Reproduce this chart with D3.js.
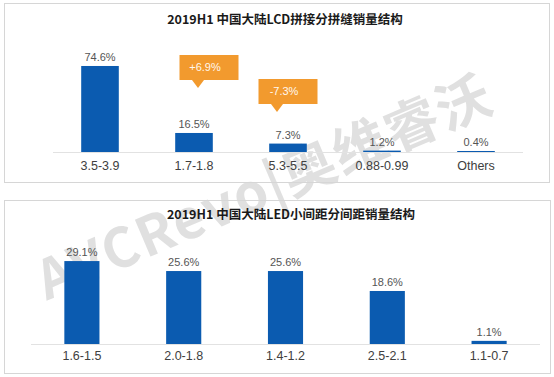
<!DOCTYPE html>
<html><head><meta charset="utf-8">
<script src="https://cdn.jsdelivr.net/npm/d3@7/dist/d3.min.js"></script>
<style>
html,body{margin:0;padding:0;background:#fff;}
svg{display:block;font-family:"Liberation Sans",Arial,"Noto Sans CJK SC",sans-serif;}
</style></head>
<body>
<svg id="chart" width="554" height="377"></svg>
<script>
const lcdTitle = "2019H1 中国大陆LCD拼接分拼缝销量结构";
const lcdCategories = ["3.5-3.9", "1.7-1.8", "5.3-5.5", "0.88-0.99", "Others"];
const lcdValues = [74.6, 16.5, 7.3, 1.2, 0.4];
const lcdCalloutCategories = ["1.7-1.8", "5.3-5.5"];
const lcdCalloutTexts = ["+6.9%", "-7.3%"];

const ledTitle = "2019H1 中国大陆LED小间距分间距销量结构";
const ledCategories = ["1.6-1.5", "2.0-1.8", "1.4-1.2", "2.5-2.1", "1.1-0.7"];
const ledValues = [29.1, 25.6, 25.6, 18.6, 1.1];

const watermarkText = "AVCRevo|奥维睿沃";

const svg = d3.select("#chart");
const BLUE = "#0b5bb0", ORANGE = "#f29a2e";

// watermark layer (behind marks)
const wm = svg.append("g");

function panel(cfg) {
  const g = svg.append("g");
  g.append("rect").attr("x", cfg.box[0] + 0.5).attr("y", cfg.box[1] + 0.5)
    .attr("width", cfg.box[2] - cfg.box[0]).attr("height", cfg.box[3] - cfg.box[1])
    .attr("fill", "none").attr("stroke", "#d6d6d6").attr("stroke-width", 1);
  g.append("text").attr("x", cfg.titleX).attr("y", cfg.titleY).attr("text-anchor", "middle")
    .attr("font-size", 12.5).attr("font-weight", "bold").attr("fill", "#1a1a1a")
    .attr("font-family", "'Noto Sans CJK SC',sans-serif").text(cfg.title);

  const x = d3.scaleBand().domain(cfg.categories).range(cfg.xRange).paddingInner(cfg.pad).paddingOuter(cfg.pad / 2);
  const y = d3.scaleLinear().domain([0, 100]).range([cfg.base, cfg.base - cfg.pxPerUnit * 100]);

  g.append("line").attr("x1", cfg.xRange[0]).attr("x2", cfg.xRange[1])
    .attr("y1", cfg.base + 0.5).attr("y2", cfg.base + 0.5).attr("stroke", "#e2e2e2");

  const data = cfg.categories.map((c, i) => ({ c, v: cfg.values[i] }));
  g.selectAll("rect.bar").data(data).enter().append("rect").attr("class", "bar")
    .attr("x", d => x(d.c)).attr("width", x.bandwidth())
    .attr("y", d => Math.min(y(d.v), cfg.base - 1)).attr("height", d => Math.max(cfg.base - y(d.v), 1))
    .attr("fill", BLUE);
  g.selectAll("text.val").data(data).enter().append("text").attr("class", "val")
    .attr("x", d => x(d.c) + x.bandwidth() / 2).attr("y", d => Math.min(y(d.v), cfg.base - 1) - 5)
    .attr("text-anchor", "middle").attr("font-size", 11).attr("fill", "#555").text(d => d.v.toFixed(1) + "%");

  const xAxis = d3.axisBottom(x).tickSize(0).tickPadding(0);
  const ax = g.append("g").attr("transform", `translate(0,${cfg.labelY})`).call(xAxis);
  ax.select(".domain").remove();
  ax.selectAll("text").attr("font-size", 12.5).attr("fill", "#404040")
    .attr("font-family", "'Liberation Sans',Arial,sans-serif").attr("dy", 0);
  return { g, x, y };
}

const lcdPanel = panel({
  box: [4, 3, 549, 182], title: lcdTitle, titleX: 285, titleY: 24,
  categories: lcdCategories, values: lcdValues, xRange: [53, 523], pad: 0.6,
  base: 152, pxPerUnit: 1.153, labelY: 170
});

const ledPanel = panel({
  box: [4, 200, 550, 373], title: ledTitle, titleX: 291, titleY: 219,
  categories: ledCategories, values: ledValues, xRange: [31, 540], pad: 0.655,
  base: 344, pxPerUnit: 2.85, labelY: 360
});

// callouts
const calloutLayout = [
  { dx: 15, boxTop: 55, tipDx: -11 },
  { dx: 0, boxTop: 79, tipDx: -11 }
];
lcdCalloutCategories.forEach((c, i) => {
  const cx = lcdPanel.x(c) + lcdPanel.x.bandwidth() / 2 + calloutLayout[i].dx;
  const w = 59, h = 25, t = calloutLayout[i].boxTop;
  const tipX = cx + calloutLayout[i].tipDx;
  const path = d3.path();
  path.moveTo(cx - w / 2, t); path.lineTo(cx + w / 2, t); path.lineTo(cx + w / 2, t + h);
  path.lineTo(tipX + 6, t + h); path.lineTo(tipX, t + h + 8); path.lineTo(tipX - 6, t + h);
  path.lineTo(cx - w / 2, t + h); path.closePath();
  lcdPanel.g.append("path").attr("d", path.toString()).attr("fill", ORANGE);
  lcdPanel.g.append("text").attr("x", cx - 4).attr("y", t + 16).attr("text-anchor", "middle")
    .attr("font-size", 11).attr("fill", "#fff8ee").text(lcdCalloutTexts[i]);
});

// watermark
wm.append("text").attr("transform", "translate(272,205) rotate(-23)")
  .attr("text-anchor", "middle").attr("font-size", 54).attr("font-weight", "bold")
  .attr("font-family", "'Noto Sans CJK SC',sans-serif").attr("letter-spacing", 2)
  .attr("fill", "#9a9a9a").attr("opacity", 0.3).text(watermarkText);
</script>
</body></html>
